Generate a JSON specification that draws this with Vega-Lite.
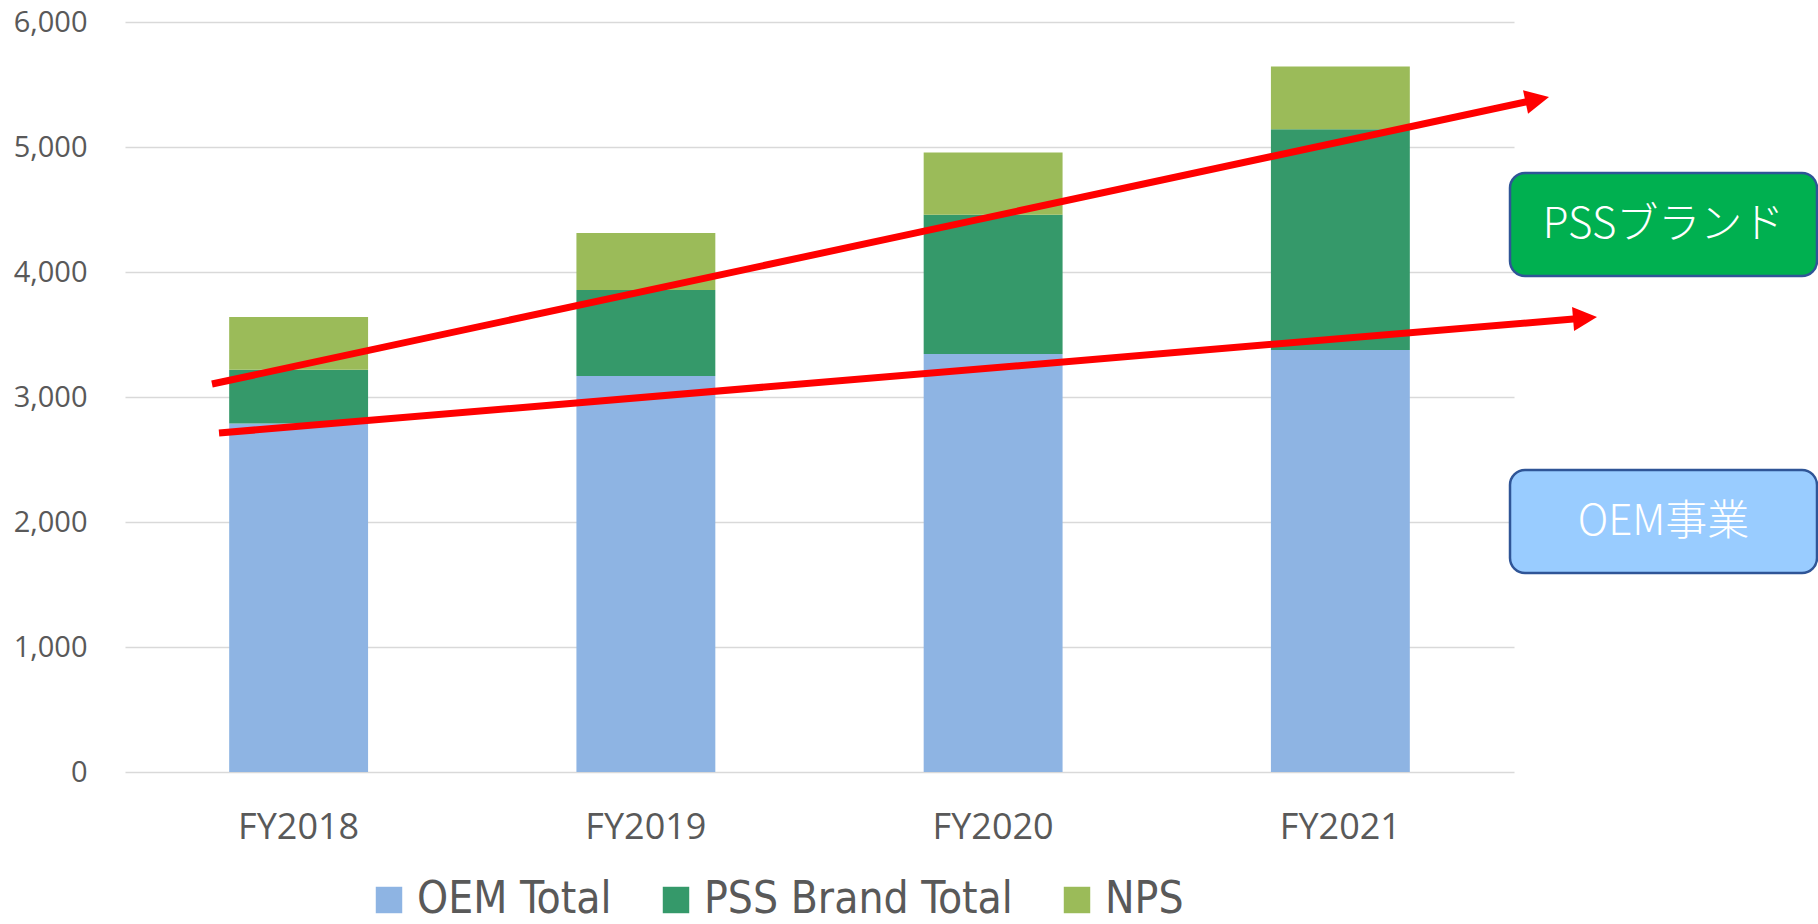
{
  "$schema": "https://vega.github.io/schema/vega-lite/v6.json",
  "autosize": {"type": "none"},
  "padding": {"left": 125, "top": 22, "right": 304, "bottom": 152},
  "width": 1389,
  "height": 750,
  "background": "#ffffff",
  "config": {"view": {"stroke": null}},
  "datasets": {
    "bars": [
      {"year": "FY2018", "segment": "OEM Total", "idx": 1, "value": 2789},
      {"year": "FY2018", "segment": "PSS Brand Total", "idx": 2, "value": 429},
      {"year": "FY2018", "segment": "NPS", "idx": 3, "value": 422},
      {"year": "FY2019", "segment": "OEM Total", "idx": 1, "value": 3168},
      {"year": "FY2019", "segment": "PSS Brand Total", "idx": 2, "value": 688},
      {"year": "FY2019", "segment": "NPS", "idx": 3, "value": 456},
      {"year": "FY2020", "segment": "OEM Total", "idx": 1, "value": 3344},
      {"year": "FY2020", "segment": "PSS Brand Total", "idx": 2, "value": 1115},
      {"year": "FY2020", "segment": "NPS", "idx": 3, "value": 498},
      {"year": "FY2021", "segment": "OEM Total", "idx": 1, "value": 3377},
      {"year": "FY2021", "segment": "PSS Brand Total", "idx": 2, "value": 1766},
      {"year": "FY2021", "segment": "NPS", "idx": 3, "value": 501}
    ],
    "arrows": [
      {"arrow": "PSS", "pos": 0.2505, "v": 3104},
      {"arrow": "PSS", "pos": 4.0584, "v": 5375},
      {"arrow": "OEM", "pos": 0.2707, "v": 2712},
      {"arrow": "OEM", "pos": 4.1961, "v": 3630}
    ],
    "headPSS": [{"pos": 4.1008, "v": 5400}],
    "headOEM": [{"pos": 4.2390, "v": 3640}],
    "boxes": [
      {"label": "PSSブランド", "x1": 3.9885, "x2": 4.8726, "y1": 3968, "y2": 4792, "xc": 4.4306, "yc": 4380},
      {"label": "OEM事業", "x1": 3.9885, "x2": 4.8726, "y1": 1592, "y2": 2416, "xc": 4.4306, "yc": 2004}
    ]
  },
  "layer": [
    {
      "data": {"name": "bars"},
      "mark": {"type": "bar", "width": {"band": 1}},
      "encoding": {
        "x": {
          "field": "year", "type": "nominal", "title": null,
          "scale": {"paddingInner": 0.6, "paddingOuter": 0.3},
          "axis": {
            "domain": false, "ticks": false, "grid": false, "labelAngle": 0,
            "labelFont": "Open Sans", "labelFontSize": 36, "labelColor": "#595959",
            "labelPadding": 38
          }
        },
        "y": {
          "field": "value", "type": "quantitative", "stack": "zero", "title": null,
          "scale": {"domain": [0, 6000], "nice": false},
          "axis": {
            "values": [0, 1000, 2000, 3000, 4000, 5000, 6000], "format": ",d",
            "domain": false, "ticks": false, "gridColor": "#D9D9D9", "gridWidth": 1.5,
            "labelFont": "Open Sans", "labelFontSize": 29, "labelColor": "#595959",
            "labelPadding": 38
          }
        },
        "color": {
          "field": "segment", "type": "nominal",
          "scale": {"domain": ["OEM Total", "PSS Brand Total", "NPS"], "range": ["#8EB4E3", "#35996A", "#9BBB59"]},
          "legend": {
            "title": null, "orient": "none", "legendX": 242, "legendY": 856,
            "direction": "horizontal", "symbolType": "square", "symbolSize": 700,
            "symbolStrokeWidth": 0, "labelFont": "DejaVu Sans Condensed", "labelFontSize": 44,
            "labelColor": "#595959", "labelOffset": 6, "columnPadding": 42, "padding": 0,
            "labelLimit": 0
          }
        },
        "order": {"field": "idx", "type": "quantitative"}
      }
    },
    {
      "data": {"name": "boxes"},
      "mark": {"type": "rect", "cornerRadius": 15, "stroke": "#2F5597", "strokeWidth": 2.5},
      "encoding": {
        "x": {"field": "x1", "type": "quantitative", "scale": {"domain": [0, 4], "nice": false, "zero": false}, "axis": null},
        "x2": {"field": "x2"},
        "y": {"field": "y1", "type": "quantitative", "title": null},
        "y2": {"field": "y2"},
        "fill": {
          "field": "label", "type": "nominal",
          "scale": {"domain": ["PSSブランド", "OEM事業"], "range": ["#00B050", "#99CCFF"]},
          "legend": null
        }
      }
    },
    {
      "data": {"name": "boxes"},
      "mark": {"type": "text", "font": "Noto Sans CJK JP", "fontSize": 42, "fontWeight": 300, "color": "#ffffff", "align": "center", "baseline": "middle"},
      "encoding": {
        "x": {"field": "xc", "type": "quantitative", "scale": {"domain": [0, 4], "nice": false, "zero": false}, "axis": null},
        "y": {"field": "yc", "type": "quantitative", "title": null},
        "text": {"field": "label"}
      }
    },
    {
      "data": {"name": "arrows"},
      "mark": {"type": "line", "color": "#FF0000", "strokeWidth": 7, "strokeCap": "butt"},
      "encoding": {
        "x": {"field": "pos", "type": "quantitative", "scale": {"domain": [0, 4], "nice": false, "zero": false}, "axis": null},
        "y": {"field": "v", "type": "quantitative", "title": null},
        "detail": {"field": "arrow"}
      }
    },
    {
      "data": {"name": "headPSS"},
      "mark": {"type": "point", "shape": "M-2,-1L0,0L-2,1Z", "size": 576, "filled": true, "color": "#FF0000", "opacity": 1, "angle": 347.9},
      "encoding": {
        "x": {"field": "pos", "type": "quantitative", "scale": {"domain": [0, 4], "nice": false, "zero": false}, "axis": null},
        "y": {"field": "v", "type": "quantitative", "title": null}
      }
    },
    {
      "data": {"name": "headOEM"},
      "mark": {"type": "point", "shape": "M-2,-1L0,0L-2,1Z", "size": 576, "filled": true, "color": "#FF0000", "opacity": 1, "angle": 355.2},
      "encoding": {
        "x": {"field": "pos", "type": "quantitative", "scale": {"domain": [0, 4], "nice": false, "zero": false}, "axis": null},
        "y": {"field": "v", "type": "quantitative", "title": null}
      }
    }
  ],
  "resolve": {"scale": {"x": "independent"}, "axis": {"x": "independent"}}
}
